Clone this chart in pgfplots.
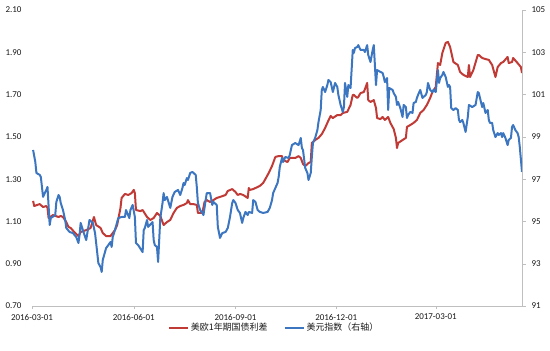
\documentclass[border=0pt]{standalone}
\usepackage{pgfplots}
\usepackage{pgfplotstable}
\pgfplotsset{compat=1.18}
\usepackage{fontspec}
\setmainfont{Carlito}
\newfontfamily\cjk{Noto Sans CJK SC}
\definecolor{spread}{RGB}{192,58,54}
\definecolor{dxy}{RGB}{60,118,192}
\definecolor{axisgray}{RGB}{191,191,191}

% day = days since 2016-03-01, value = US-EU 1y spread (%)
\pgfplotstableread{
day val
1 1.197
2 1.173
7 1.182
10 1.168
13 1.173
14 1.164
15 1.116
19 1.130
24 1.121
26 1.126
28 1.121
31 1.097
33 1.074
35 1.069
39 1.045
42 1.031
44 1.050
49 1.059
53 1.069
56 1.121
58 1.083
62 1.069
64 1.045
67 1.031
71 1.031
75 1.059
77 1.083
80 1.164
81 1.211
84 1.230
87 1.225
90 1.234
92 1.249
93 1.234
94 1.154
98 1.149
100 1.154
104 1.121
107 1.107
110 1.116
113 1.140
116 1.126
119 1.083
122 1.097
125 1.107
128 1.140
131 1.164
134 1.173
137 1.178
140 1.187
141 1.201
143 1.182
146 1.182
149 1.178
150 1.140
154 1.140
156 1.192
158 1.201
161 1.192
164 1.201
167 1.211
170 1.216
175 1.225
177 1.244
181 1.253
184 1.239
186 1.225
188 1.230
191 1.225
195 1.211
196 1.258
197 1.249
200 1.253
204 1.263
206 1.268
209 1.282
212 1.310
214 1.329
217 1.362
220 1.405
223 1.409
226 1.409
227 1.391
231 1.381
233 1.400
238 1.400
241 1.409
243 1.400
245 1.372
247 1.362
250 1.376
252 1.381
253 1.471
256 1.485
259 1.495
262 1.513
265 1.542
267 1.566
270 1.599
272 1.589
276 1.603
279 1.603
281 1.613
285 1.618
288 1.651
290 1.698
291 1.698
294 1.684
295 1.689
297 1.707
300 1.712
301 1.726
303 1.755
304 1.674
306 1.665
309 1.674
311 1.636
312 1.589
315 1.584
317 1.594
319 1.580
322 1.594
324 1.566
327 1.537
329 1.495
330 1.447
331 1.471
335 1.485
338 1.495
339 1.547
342 1.556
345 1.566
348 1.580
351 1.613
354 1.627
357 1.651
360 1.684
362 1.712
365 1.736
367 1.849
369 1.840
371 1.897
374 1.944
376 1.949
378 1.925
381 1.854
385 1.840
387 1.807
390 1.793
394 1.783
395 1.840
396 1.783
399 1.816
403 1.887
404 1.887
407 1.873
410 1.868
413 1.864
416 1.840
419 1.783
421 1.830
424 1.849
426 1.854
430 1.878
431 1.849
434 1.854
435 1.873
439 1.849
442 1.830
443 1.802
}\spreadtable

% dollar index (right axis)
\pgfplotstableread{
day val
1 98.38
3 97.81
4 97.29
7 97.20
8 97.10
10 96.16
12 96.39
13 96.49
14 96.63
16 94.83
17 95.16
21 95.30
22 95.92
24 96.25
25 96.16
26 95.87
28 95.54
30 95.07
31 94.69
34 94.50
37 94.45
40 94.26
42 93.98
43 94.36
44 94.93
46 94.59
49 94.12
52 95.07
55 94.93
57 94.45
58 93.98
60 93.03
62 92.84
63 92.61
64 93.18
67 93.74
69 93.88
71 94.03
72 93.79
73 94.26
75 94.59
78 95.16
81 95.21
84 95.21
85 95.54
88 95.16
89 95.54
91 95.78
93 95.21
94 93.98
96 93.88
100 93.55
101 94.59
102 94.69
104 95.07
105 94.74
109 94.97
110 94.12
111 93.88
113 93.79
114 93.08
116 95.16
118 95.87
119 96.34
120 96.01
122 96.16
125 95.64
127 96.16
129 96.39
132 96.49
134 96.25
136 96.58
137 96.82
138 96.72
140 97.05
141 96.96
143 97.29
145 97.34
148 97.20
149 96.63
150 95.87
152 95.54
154 95.40
155 95.30
157 96.01
158 96.34
161 96.34
163 95.78
164 95.92
167 95.78
168 94.74
170 94.22
172 94.45
175 94.50
177 94.69
179 95.21
181 95.87
182 96.01
184 95.87
186 95.54
188 95.40
190 94.93
191 95.16
193 95.45
195 95.30
196 95.45
199 95.40
200 96.01
202 95.92
204 95.54
206 95.45
209 95.40
213 95.45
215 95.64
217 96.01
218 96.34
220 96.58
222 96.82
223 97.10
224 97.57
226 98.00
227 97.81
229 98.05
232 98.00
233 98.14
235 98.61
238 98.71
241 98.61
243 98.95
244 98.47
245 98.38
247 97.53
249 97.29
250 96.96
252 97.29
253 98.05
254 98.71
256 98.95
258 99.32
259 99.70
261 100.27
262 101.22
263 101.36
265 101.12
267 101.45
268 101.69
270 101.59
271 101.36
272 101.12
274 101.55
276 101.36
277 100.98
279 100.51
281 100.18
282 100.41
283 101.55
285 100.89
286 101.45
288 101.31
290 103.11
291 102.97
292 103.20
294 103.25
295 103.34
297 103.11
300 103.11
301 103.01
303 103.34
304 102.87
306 102.54
308 103.11
309 103.34
311 101.45
312 102.16
315 102.07
317 102.02
318 101.83
319 101.59
321 101.78
322 100.27
323 101.31
326 101.22
327 101.07
329 100.89
330 100.51
331 100.65
333 100.36
335 99.94
336 100.51
338 100.41
339 99.89
340 100.03
342 100.18
344 100.13
345 100.60
347 100.65
348 100.84
349 100.98
351 101.22
353 100.84
354 100.89
356 100.98
357 101.12
358 101.55
360 101.22
362 101.12
363 101.22
365 101.12
367 102.16
368 101.55
369 101.78
371 101.93
372 102.07
374 101.83
376 101.36
377 101.45
378 101.36
379 100.36
381 100.27
383 100.36
385 100.27
386 99.80
387 99.70
389 99.80
390 99.66
392 99.23
394 99.94
395 100.51
398 100.41
401 100.51
403 101.12
404 101.07
405 100.84
407 100.41
408 100.60
410 100.13
412 100.27
413 99.80
414 99.66
416 99.66
417 99.32
419 98.99
421 99.18
422 99.09
424 99.18
425 98.99
426 99.18
428 98.95
430 98.61
431 98.85
433 98.95
434 99.47
435 99.56
437 99.32
439 99.18
440 98.99
441 98.52
443 97.34
}\dxytable

\begin{document}
\begin{tikzpicture}
\pgfplotsset{
  common/.style={
    scale only axis, width=490bp, height=296bp,
    xmin=0, xmax=443,
    tick label style={font=\fontsize{9}{10}\selectfont, text=black!90},
    /pgf/number format/assume math mode=true,
  }
}
\begin{axis}[common,
  ymin=0.7, ymax=2.1,
  axis x line*=bottom, axis y line*=left,
  y axis line style={draw=none},
  x axis line style={draw=axisgray},
  ytick={0.7,0.9,1.1,1.3,1.5,1.7,1.9,2.1},
  ytick style={draw=none},
  yticklabel style={/pgf/number format/fixed, /pgf/number format/fixed zerofill, /pgf/number format/precision=2, xshift=-4bp},
  xtick={0,92,184,275,365},
  xticklabels={2016-03-01,2016-06-01,2016-09-01,2016-12-01,2017-03-01},
  xtick style={draw=axisgray},
  tick align=outside, major tick length=3bp,
  xticklabel style={yshift=-1.5bp},
]
\addplot[spread, line width=2bp, line join=round] table[x=day,y=val] {\spreadtable};
\end{axis}
\begin{axis}[common,
  ymin=91, ymax=105,
  axis x line=none, axis y line*=right,
  y axis line style={draw=axisgray},
  ytick={91,93,95,97,99,101,103,105},
  ytick style={draw=axisgray},
  tick align=outside, major tick length=4bp,
  yticklabel style={xshift=2bp},
  legend style={draw=none, fill=none, at={(0.494,-0.074)}, anchor=center,
    font=\cjk\fontsize{9}{10}\selectfont, text=black!90,
    /tikz/every even column/.append style={column sep=14bp}},
  legend columns=2,
  legend image code/.code={\draw[#1] (0cm,0cm) -- (19bp,0cm);},
]
\addlegendimage{spread, line width=2bp}
\addlegendentry{美欧1年期国债利差}
\addplot[dxy, line width=2bp, line join=round] table[x=day,y=val] {\dxytable};
\addlegendentry{美元指数（右轴）}
\end{axis}
\pgfresetboundingbox
\path[use as bounding box] (-32bp,-45bp) rectangle (518bp,306bp);
\end{tikzpicture}
\end{document}
